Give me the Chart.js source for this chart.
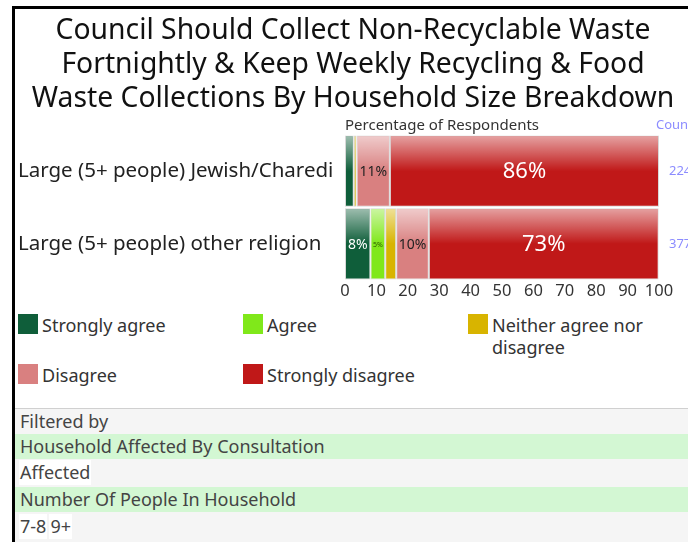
<!DOCTYPE html>
<html>
<head>
<meta charset="utf-8">
<script src="https://cdn.jsdelivr.net/npm/chart.js@4.4.0/dist/chart.umd.min.js"></script>
<style>
  body { margin: 0; width: 688px; height: 542px; overflow: hidden; background: #fff; font-family: "Noto Sans", sans-serif; }
  #frame { position: absolute; left: 12px; top: 6px; right: 0; bottom: 0; border-left: 3px solid #000; border-top: 3px solid #000; }
  #wrap { position: absolute; left: 0; top: 0; width: 673px; height: 293px; }
  #legend { position: absolute; left: 3px; top: 305px; width: 670px; }
  .item { position: absolute; width: 220px; font-size: 18px; color: #333; line-height: 22px; }
  .item span.sw { position: absolute; left: 0; top: 0; width: 20px; height: 20px; }
  .item span.tx { display: block; margin-left: 24px; }
  #filters { position: absolute; left: 0; right: 0; top: 399px; bottom: 0; border-top: 1px solid #d0d0d0; background: #f5f5f5; font-size: 18px; color: #444; }
  .row { height: 25px; line-height: 25px; padding-left: 5px; }
  .green { background: #d3f7d3; }
  .box { display: inline-block; background: #fff; height: 25px; line-height: 25px; padding: 0 1px; margin-left: 4px; }
</style>
</head>
<body>
<div id="frame">
  <div id="wrap"><canvas id="chart"></canvas></div>
  <div id="legend"></div>
  <div id="filters">
    <div class="row">Filtered by</div>
    <div class="row green">Household Affected By Consultation</div>
    <div style="margin-top:1px"><span class="box">Affected</span></div>
    <div class="row green" style="margin-top:2px">Number Of People In Household</div>
    <div style="margin-top:2px"><span class="box">7-8</span><span class="box" style="margin-left:2px">9+</span></div>
  </div>
</div>
<script>
var categories = ["Large (5+ people) Jewish/Charedi", "Large (5+ people) other religion"];
var answers = ["Strongly agree", "Agree", "Neither agree nor disagree", "Disagree", "Strongly disagree"];
var colors = ["#0f5e3a", "#80e81a", "#d8b400", "#d98080", "#c01818"];
var labelColors = ["#fff", "#2d5a00", "#333", "#222", "#fff"];
// percentages per answer, one value per category
var stronglyAgree = [2.8, 8.1];
var agree = [0, 4.7];
var neither = [0.9, 3.5];
var disagree = [10.6, 10.4];
var stronglyDisagree = [85.7, 73.2];
var counts = [224, 377];
var ticks = [0, 10, 20, 30, 40, 50, 60, 70, 80, 90, 100];

var series = [stronglyAgree, agree, neither, disagree, stronglyDisagree];

var barExtras = {
  id: 'barExtras',
  afterDatasetsDraw: function(chart) {
    var ctx = chart.ctx;
    chart.data.datasets.forEach(function(ds, i) {
      var meta = chart.getDatasetMeta(i);
      meta.data.forEach(function(el, j) {
        var p = el.getProps(['x', 'y', 'base', 'height'], true);
        var left = Math.min(p.x, p.base), w = Math.abs(p.x - p.base);
        if (w < 0.5) return;
        var top = p.y - p.height / 2;
        var g = ctx.createLinearGradient(0, top, 0, top + p.height * 0.5);
        g.addColorStop(0, 'rgba(255,255,255,0.6)');
        g.addColorStop(1, 'rgba(255,255,255,0)');
        ctx.save();
        ctx.fillStyle = g;
        ctx.fillRect(left + 1, top + 1, w - 2, p.height * 0.5);
        var v = ds.data[j];
        if (v >= 4) {
          var size = v >= 20 ? 22 : (v >= 6 ? 14 : 7);
          ctx.font = size + 'px "Noto Sans"';
          ctx.fillStyle = labelColors[i];
          ctx.textAlign = 'center';
          ctx.textBaseline = 'middle';
          ctx.fillText(Math.round(v) + '%', left + w / 2, p.y + 1);
        }
        ctx.restore();
      });
    });
  },
  afterDraw: function(chart) {
    var ctx = chart.ctx;
    var ys = chart.scales.y;
    ctx.save();
    ctx.fillStyle = '#8c8cff';
    ctx.font = '13px "Noto Sans"';
    ctx.textBaseline = 'middle';
    ctx.fillText('Count', 641, 116);
    counts.forEach(function(c, i) {
      ctx.fillText(String(c), 654, ys.getPixelForValue(i));
    });
    ctx.restore();
  }
};

new Chart(document.getElementById('chart'), {
  type: 'bar',
  data: {
    labels: categories,
    datasets: answers.map(function(a, i) {
      return {
        label: a,
        data: series[i],
        backgroundColor: colors[i],
        borderColor: '#d8d8d8',
        borderWidth: 1,
        borderSkipped: false,
        barPercentage: 1,
        categoryPercentage: 0.98
      };
    })
  },
  options: {
    indexAxis: 'y',
    responsive: true,
    maintainAspectRatio: false,
    animation: false,
    layout: { padding: { left: 3, right: 0, top: 0, bottom: 0 } },
    plugins: {
      legend: { display: false },
      tooltip: { enabled: false },
      title: {
        display: true,
        text: ["Council Should Collect Non-Recyclable Waste", "Fortnightly & Keep Weekly Recycling & Food", "Waste Collections By Household Size Breakdown"],
        color: '#111',
        font: { family: '"Noto Sans"', size: 28.3, weight: 'normal', lineHeight: 1.2 },
        padding: { top: 5, bottom: 1 }
      }
    },
    scales: {
      x: {
        stacked: true,
        min: 0, max: 100,
        afterBuildTicks: function(s) { s.ticks = ticks.map(function(t) { return { value: t }; }); },
        grid: { display: false, drawTicks: false },
        border: { display: false },
        ticks: { color: '#333', padding: 1, maxRotation: 0, minRotation: 0, autoSkip: false, font: { family: '"Noto Sans"', size: 16.5 } }
      },
      x2: {
        position: 'top',
        min: 0, max: 100,
        grid: { display: false, drawTicks: false },
        border: { display: false },
        ticks: { display: false },
        title: { display: true, text: 'Percentage of Respondents', align: 'start', color: '#333', font: { family: '"Noto Sans"', size: 15 }, padding: { top: 0, bottom: 0 } }
      },
      y: {
        stacked: true,
        afterFit: function(s) { s.width = 327; },
        grid: { display: false, drawTicks: false },
        border: { display: false },
        ticks: { crossAlign: 'far', color: '#222', font: { family: '"Noto Sans"', size: 20.5 } }
      },
      y2: {
        position: 'right',
        afterFit: function(s) { s.width = 29; },
        grid: { display: false, drawTicks: false },
        border: { display: false },
        ticks: { display: false }
      }
    }
  },
  plugins: [barExtras]
});

var legend = document.getElementById('legend');
var pos = [[0, 0], [225, 0], [450, 0], [0, 50], [225, 50]];
answers.forEach(function(a, i) {
  var d = document.createElement('div');
  d.className = 'item';
  d.style.left = pos[i][0] + 'px';
  d.style.top = pos[i][1] + 'px';
  d.innerHTML = '<span class="sw" style="background:' + colors[i] + '"></span><span class="tx">' + a + '</span>';
  legend.appendChild(d);
});
</script>
</body>
</html>
